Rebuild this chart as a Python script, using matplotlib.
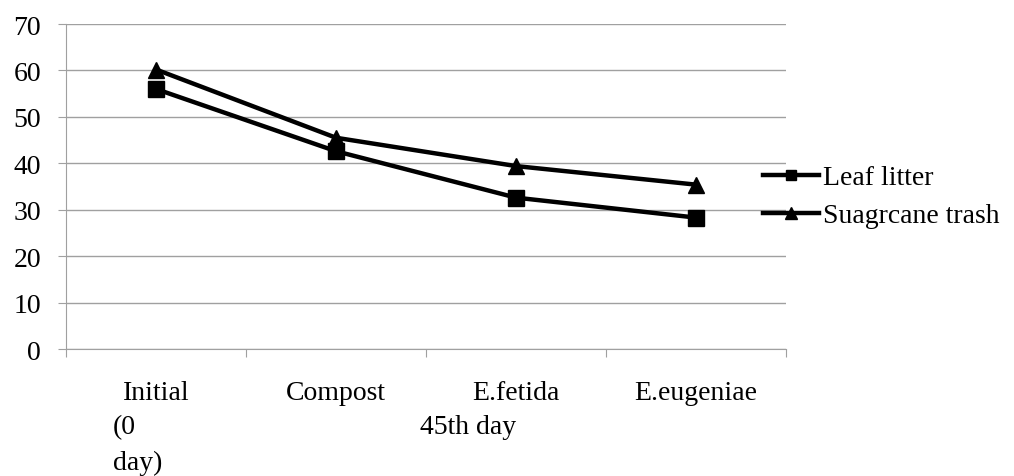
import matplotlib.pyplot as plt

categories = ['Initial', 'Compost', 'E.fetida', 'E.eugeniae']
leaf_litter = [56.0, 42.6, 32.6, 28.3]
sugarcane = [60.2, 45.5, 39.4, 35.4]

plt.rcParams['font.family'] = ['Liberation Serif', 'DejaVu Serif']

fig = plt.figure(figsize=(10.14, 4.77), dpi=100)
ax = fig.add_axes([66 / 1014, 1 - 350 / 477, 720 / 1014, 325 / 477])

x = range(len(categories))
ax.plot(x, leaf_litter, color='black', lw=3.2, marker='s', ms=11, label='Leaf litter')
ax.plot(x, sugarcane, color='black', lw=3.2, marker='^', ms=12, label='Suagrcane trash')

ax.set_xlim(-0.5, 3.5)
ax.set_ylim(0, 70)
ax.set_yticks(range(0, 71, 10))
ax.yaxis.grid(True, color='#a0a0a0', lw=1)
ax.set_axisbelow(True)
for s in ['top', 'right']:
    ax.spines[s].set_visible(False)
for s in ['left', 'bottom']:
    ax.spines[s].set_color('#a0a0a0')
ax.tick_params(axis='y', colors='#a0a0a0', labelcolor='black', labelsize=20, length=6, pad=12)
ax.set_xticks([-0.5, 0.5, 1.5, 2.5, 3.5])
ax.set_xticklabels([])
ax.tick_params(axis='x', colors='#a0a0a0', length=6, direction='out')
ax.set_xticks(list(x), minor=True)
ax.set_xticklabels(categories, minor=True, fontsize=20)
ax.tick_params(axis='x', which='minor', length=0, pad=22, labelcolor='black')

fig.text(113 / 1014, 1 - 428 / 477, '(0', fontsize=20, va='center', ha='left')
fig.text(113 / 1014, 1 - 463 / 477, 'day)', fontsize=20, va='center', ha='left')
fig.text(420 / 1014, 1 - 428 / 477, '45th day', fontsize=20, va='center', ha='left')

ax.legend(loc='upper left', bbox_to_anchor=(763 / 1014, 1 - 166 / 477),
          bbox_transform=fig.transFigure, frameon=False, fontsize=20,
          borderaxespad=0, borderpad=0, handlelength=2.0, handletextpad=0.15,
          labelspacing=0.45, markerscale=0.7)

fig.savefig('out.png', dpi=100)
